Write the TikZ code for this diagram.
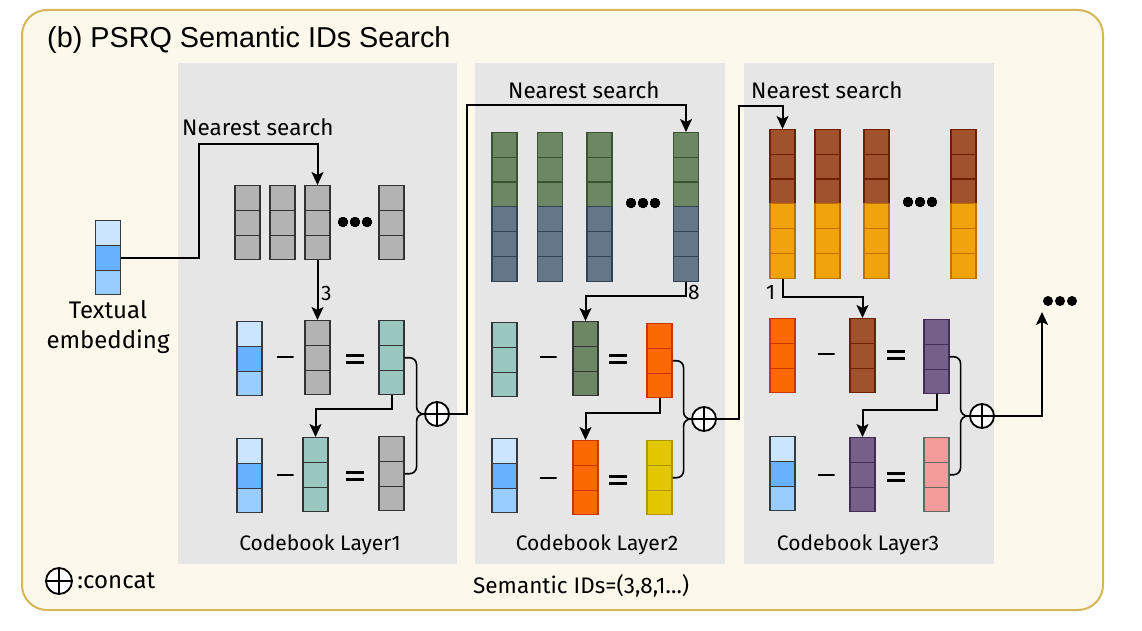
\documentclass[tikz,border=0pt]{standalone}
\usepackage{fontspec}
\setmainfont{Fira Sans}
\newfontfamily\titlefont{Liberation Sans}
\usetikzlibrary{arrows.meta, positioning, calc}

\definecolor{boxfill}{HTML}{FCF8EC}
\definecolor{boxline}{HTML}{D6B656}
\definecolor{panelgray}{HTML}{E6E6E6}
\definecolor{blueA}{HTML}{CCE5FF}
\definecolor{blueB}{HTML}{66B2FF}
\definecolor{blueC}{HTML}{99CCFF}
\definecolor{dblue}{HTML}{36393D}
\definecolor{cgray}{HTML}{B3B3B3}
\definecolor{dgray}{HTML}{333333}
\definecolor{cteal}{HTML}{9AC7BF}
\definecolor{cgreen}{HTML}{6D8764}
\definecolor{dgreen}{HTML}{3A5431}
\definecolor{cslate}{HTML}{647687}
\definecolor{dslate}{HTML}{314354}
\definecolor{corange}{HTML}{FA6800}
\definecolor{dorange}{HTML}{C73500}
\definecolor{cyellow}{HTML}{E3C800}
\definecolor{dyellow}{HTML}{B09500}
\definecolor{cbrown}{HTML}{A0522D}
\definecolor{dbrown}{HTML}{6D1F00}
\definecolor{camber}{HTML}{F0A30A}
\definecolor{damber}{HTML}{BD7000}
\definecolor{cpurple}{HTML}{76608A}
\definecolor{dpurple}{HTML}{432D57}
\definecolor{cpink}{HTML}{F19C99}
\definecolor{dpink}{HTML}{666666}

\newcommand{\stack}[3]{%
  \foreach \cf/\cd [count=\k] in {#3}
    \node[cell, fill=\cf, draw=\cd] (#1-\k) at ($(#2)+(0,{(\k-1)*24.75})$) {};%
}

\begin{document}
\begin{tikzpicture}[x=1pt, y=-1pt,
  cell/.style={rectangle, anchor=north, minimum width=25pt, minimum height=24.75pt, inner sep=0pt, line width=1.2pt},
  panel/.style={fill=panelgray},
  lbl/.style={font=\fontsize{21}{25}\selectfont},
  idx/.style={font=\fontsize{21}{24}\selectfont, anchor=base west, inner sep=0pt},
  minusop/.style={minimum width=17pt, minimum height=12pt, inner sep=0pt,
    path picture={\draw[line width=2.6pt] (path picture bounding box.west) -- (path picture bounding box.east);}},
  equalop/.style={minimum width=18pt, minimum height=12pt, inner sep=0pt,
    path picture={\draw[line width=2.6pt] ([yshift=3.5pt]path picture bounding box.west) -- ([yshift=3.5pt]path picture bounding box.east)
      ([yshift=-3.5pt]path picture bounding box.west) -- ([yshift=-3.5pt]path picture bounding box.east);}},
  concat/.style={circle, draw, fill=white, line width=1.8pt, minimum size=24pt, inner sep=0pt,
    path picture={\draw[line width=1.8pt] (path picture bounding box.north) -- (path picture bounding box.south)
      (path picture bounding box.west) -- (path picture bounding box.east);}},
  arrow/.style={line width=2pt, -{Stealth[length=13pt, width=12pt, inset=3pt]}},
  merge/.style={line width=1.6pt, rounded corners=7pt}
]
\useasboundingbox (0,0) rectangle (1142,631);

\draw[line width=2pt, draw=boxline, fill=boxfill, rounded corners=25pt] (22,10) rectangle (1103,610);
\node[anchor=base west, font=\titlefont\fontsize{28.8}{32}\selectfont, inner sep=0pt] (title) at (47,48) {(b) PSRQ Semantic IDs Search};

\fill[panel] (178,63) rectangle (457,564);
\fill[panel] (475,63) rectangle (725,564);
\fill[panel] (744,63) rectangle (994,564);

% input
\stack{emb}{108,220}{blueA/dblue,blueB/dblue,blueC/dblue}
\node[align=center, font=\fontsize{24}{30}\selectfont, below=2pt of emb-3] (embtxt) {Textual\\embedding};

% layer 1
\foreach \n/\x in {c11/247.5,c12/282.5,c13/317.5,c14/391.5}
  \stack{\n}{\x,185}{cgray/dgray,cgray/dgray,cgray/dgray}
\foreach \d in {-12,0,12} \fill ($(355,222)+(\d,0)$) circle (5);
\stack{r1a}{249.5,321}{blueA/dblue,blueB/dblue,blueC/dblue}
\stack{r1b}{317.5,320}{cgray/dgray,cgray/dgray,cgray/dgray}
\stack{r1c}{391.5,320}{cteal/dgray,cteal/dgray,cteal/dgray}
\stack{r2a}{249.5,438}{blueA/dblue,blueB/dblue,blueC/dblue}
\stack{r2b}{315.5,437}{cteal/dgray,cteal/dgray,cteal/dgray}
\stack{r2c}{391.5,436}{cgray/dgray,cgray/dgray,cgray/dgray}
\node[minusop] (m11) at (285,357) {};
\node[equalop] (e11) at (355,359) {};
\node[minusop] (m12) at (285,475) {};
\node[equalop] (e12) at (355,476) {};
\node[concat] (cat1) at (437,414) {};
\node[lbl, anchor=base west, inner sep=0pt, font=\fontsize{22.5}{26}\selectfont] (ns1) at (182,136) {Nearest search};
\node[idx] (id1) at (321,300) {3};
\node[lbl, anchor=base, inner sep=0pt] (cb1) at (320,550) {Codebook Layer1};

\draw[arrow] (emb-2.east) -- ++(78,0) |- ([yshift=41pt]c13-1.north) -- (c13-1.north);
\draw[arrow] (c13-3.south) -- (r1b-1.north);
\draw[arrow] (r1c-3.south) -- ++(0,14) -| (r2b-1.north);
\draw[merge] (r1c-2.east) -- ++(12,0) |- (cat1.west);
\draw[merge] (r2c-2.east) -- ++(12,0) |- (cat1.west);

% layer 2
\foreach \n/\x in {c21/504.5,c22/550,c23/599.5,c24/686}
  \stack{\n}{\x,132}{cgreen/dgreen,cgreen/dgreen,cgreen/dgreen,cslate/dslate,cslate/dslate,cslate/dslate}
\foreach \d in {-12,0,12} \fill ($(643,203)+(\d,0)$) circle (5);
\stack{r3a}{504.5,322}{cteal/dgray,cteal/dgray,cteal/dgray}
\stack{r3b}{585.5,321}{cgreen/dgray,cgreen/dgray,cgreen/dgray}
\stack{r3c}{659.5,323}{corange/dorange,corange/dorange,corange/dorange}
\stack{r4a}{504.5,438}{blueA/dblue,blueB/dblue,blueC/dblue}
\stack{r4b}{585.5,440}{corange/dorange,corange/dorange,corange/dorange}
\stack{r4c}{659.5,440}{cyellow/dyellow,cyellow/dyellow,cyellow/dyellow}
\node[minusop] (m21) at (548,357) {};
\node[equalop] (e21) at (618,359) {};
\node[minusop] (m22) at (548,478) {};
\node[equalop] (e22) at (618,480) {};
\node[concat] (cat2) at (704,419) {};
\node[lbl, anchor=base west, inner sep=0pt, font=\fontsize{22.5}{26}\selectfont] (ns2) at (508,99) {Nearest search};
\node[idx] (id2) at (688,299) {8};
\node[lbl, anchor=base, inner sep=0pt] (cb2) at (597,550) {Codebook Layer2};

\draw[arrow] (cat1.east) -- ++(17,0) |- ([yshift=27pt]c24-1.north) -- (c24-1.north);
\draw[arrow] (c24-6.south) -- ++(0,14) -| (r3b-1.north);
\draw[arrow] (r3c-3.south) -- ++(0,15) -| (r4b-1.north);
\draw[merge] (r3c-2.east) -- ++(11,0) |- (cat2.west);
\draw[merge] (r4c-2.east) -- ++(11,0) |- (cat2.west);

% layer 3
\foreach \n/\x in {c31/782.5,c32/827.5,c33/876.5,c34/963.5}
  \stack{\n}{\x,129}{cbrown/dbrown,cbrown/dbrown,cbrown/dbrown,camber/damber,camber/damber,camber/damber}
\foreach \d in {-12,0,12} \fill ($(920,202)+(\d,0)$) circle (5);
\stack{r5a}{782.5,318}{corange/dorange,corange/dorange,corange/dorange}
\stack{r5b}{862.5,318}{cbrown/dbrown,cbrown/dbrown,cbrown/dbrown}
\stack{r5c}{936.5,319}{cpurple/dpurple,cpurple/dpurple,cpurple/dpurple}
\stack{r6a}{782.5,436}{blueA/dblue,blueB/dblue,blueC/dblue}
\stack{r6b}{862.5,437}{cpurple/dpurple,cpurple/dpurple,cpurple/dpurple}
\stack{r6c}{936.5,437}{cpink/dpink,cpink/dpink,cpink/dpink}
\node[minusop] (m31) at (826,354) {};
\node[equalop] (e31) at (896,355) {};
\node[minusop] (m32) at (826,475) {};
\node[equalop] (e32) at (896,477) {};
\node[concat] (cat3) at (982,416) {};
\node[lbl, anchor=base west, inner sep=0pt, font=\fontsize{22.5}{26}\selectfont] (ns3) at (751,99) {Nearest search};
\node[idx] (id3) at (766,299) {1};
\node[lbl, anchor=base, inner sep=0pt] (cb3) at (858,550) {Codebook Layer3};

\draw[arrow] (cat2.east) -- ++(22,0) |- ([yshift=23pt]c31-1.north) -- (c31-1.north);
\draw[arrow] (c31-6.south) -- ++(0,18) -| (r5b-1.north);
\draw[arrow] (r5c-3.south) -- ++(0,16) -| (r6b-1.north);
\draw[merge] (r5c-2.east) -- ++(11,0) |- (cat3.west);
\draw[merge] (r6c-2.east) -- ++(11,0) |- (cat3.west);

% output
\coordinate (more) at (1042,312);
\foreach \d in {-12,0,12} \fill ($(1060,301)+(\d,0)$) circle (5);
\draw[arrow] (cat3.east) -| (more);

% legend
\node[concat, minimum size=26pt] (leg) at (59,581) {};
\node[lbl, right=1pt of leg, font=\fontsize{24}{28}\selectfont] (legtxt) {:concat};
\node[lbl, anchor=base west, inner sep=0pt, font=\fontsize{22.5}{26}\selectfont] (ids) at (473,593) {Semantic IDs=(3,8,1...)};
\end{tikzpicture}
\end{document}
